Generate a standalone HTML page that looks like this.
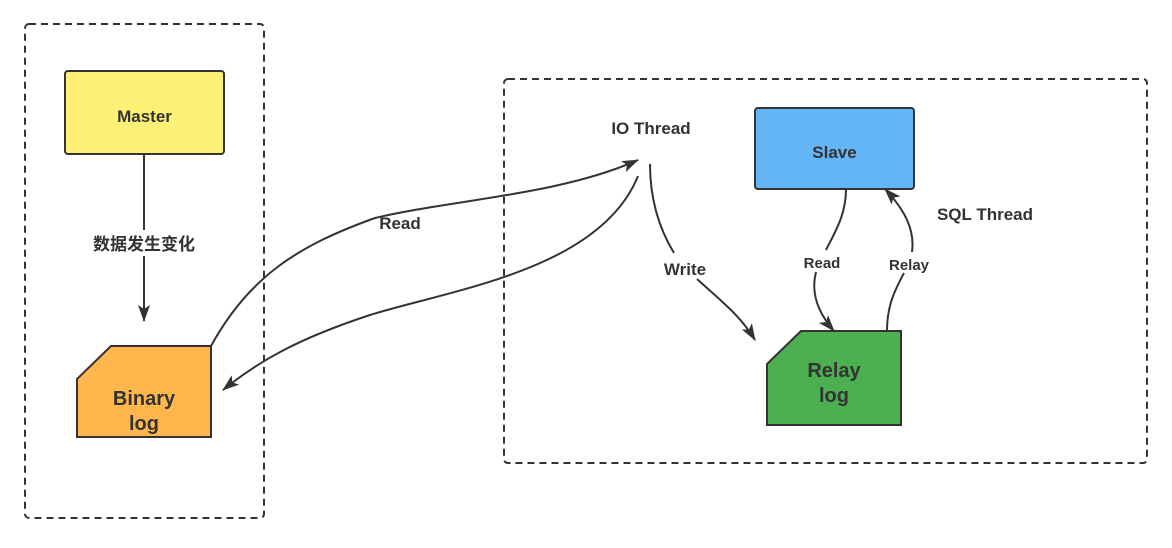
<!DOCTYPE html>
<html><head><meta charset="utf-8"><style>
body{margin:0;background:#fff;}
svg text{font-family:"Liberation Sans","Noto Sans CJK SC",sans-serif;font-weight:bold;fill:#333;}
</style></head><body>
<svg width="1172" height="543" viewBox="0 0 1172 543" xmlns="http://www.w3.org/2000/svg">
<defs><marker id="a" markerWidth="18" markerHeight="12" refX="16" refY="6" orient="auto" markerUnits="userSpaceOnUse"><path d="M0,0 L17,6 L0,12 L4,6 Z" fill="#333"/></marker></defs>
<rect x="25" y="24" width="239" height="494" rx="4" fill="none" stroke="#333" stroke-width="2" stroke-dasharray="7,5"/>
<rect x="504" y="79" width="643" height="384" rx="4" fill="none" stroke="#333" stroke-width="2" stroke-dasharray="7,5"/>
<rect x="65" y="71" width="159" height="83" rx="3" fill="#fff176" stroke="#333" stroke-width="2"/>
<text x="144.5" y="122" font-size="17" text-anchor="middle">Master</text>
<path d="M144,154 L144,321" stroke="#333" stroke-width="2" fill="none" marker-end="url(#a)"/>
<rect x="88" y="230" width="112" height="26" fill="#fff"/>
<text x="144" y="250" font-size="17" text-anchor="middle">数据发生变化</text>
<path d="M111,346 L211,346 L211,437 L77,437 L77,379 Z" fill="#ffb74d" stroke="#333" stroke-width="2"/>
<text x="144" y="405" font-size="20" text-anchor="middle">Binary</text>
<text x="144" y="430" font-size="20" text-anchor="middle">log</text>
<path d="M211,346 C250,275 300,245 375,218 C450,200 560,195 638,160" stroke="#333" stroke-width="2" fill="none" marker-end="url(#a)"/>
<text x="400" y="229" font-size="17" text-anchor="middle">Read</text>
<path d="M638,176 C600,270 450,290 370,315 C300,338 260,360 223,390" stroke="#333" stroke-width="2" fill="none" marker-end="url(#a)"/>
<text x="651" y="134" font-size="17" text-anchor="middle">IO Thread</text>
<path d="M650,164 C650,200 660,230 674,253 M697,279 C720,300 740,315 755,340" stroke="#333" stroke-width="2" fill="none" marker-end="url(#a)"/>
<text x="685" y="275" font-size="17" text-anchor="middle">Write</text>
<rect x="755" y="108" width="159" height="81" rx="3" fill="#64b5f6" stroke="#333" stroke-width="2"/>
<text x="834.5" y="158" font-size="17" text-anchor="middle">Slave</text>
<path d="M767,364 L801,331 L901,331 L901,425 L767,425 Z" fill="#4caf50" stroke="#333" stroke-width="2"/>
<text x="834" y="377" font-size="20" text-anchor="middle">Relay</text>
<text x="834" y="402" font-size="20" text-anchor="middle">log</text>
<path d="M846,189 C846,215 835,232 826,250 M816,272 C810,295 820,315 834,331" stroke="#333" stroke-width="2" fill="none" marker-end="url(#a)"/>
<text x="822" y="268" font-size="15" text-anchor="middle">Read</text>
<path d="M887,331 C887,305 895,290 904,273 M912,252 C915,230 905,210 885,189" stroke="#333" stroke-width="2" fill="none" marker-end="url(#a)"/>
<text x="909" y="270" font-size="15" text-anchor="middle">Relay</text>
<text x="985" y="220" font-size="17" text-anchor="middle">SQL Thread</text>
</svg>
</body></html>
